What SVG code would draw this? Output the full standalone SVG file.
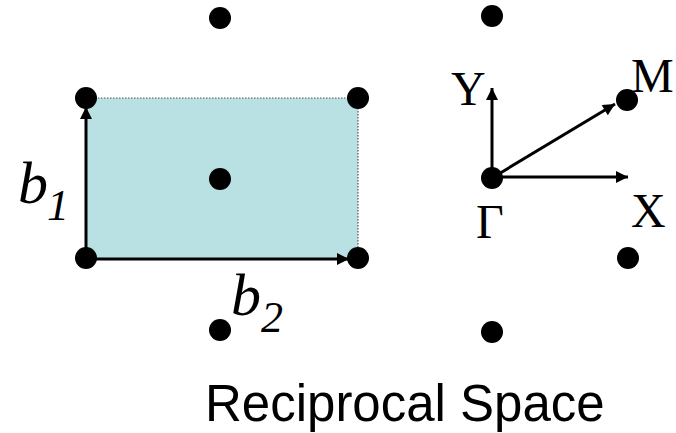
<svg xmlns="http://www.w3.org/2000/svg" width="676" height="433" viewBox="0 0 676 433">
<defs>
<style>
.dot{fill:#000}
.ln{stroke:#000;stroke-width:3;fill:none}
.it{font-family:"Liberation Serif",serif;font-style:italic;fill:#000}
.rm{font-family:"Liberation Serif",serif;font-size:48px;fill:#000}
.ss{font-family:"Liberation Sans",Arial,sans-serif;font-size:51px;fill:#000}
</style>
<marker id="ah" viewBox="0 0 10 10" refX="10" refY="5" markerWidth="5" markerHeight="4" markerUnits="strokeWidth" orient="auto">
<path d="M0,0 L10,5 L0,10 z" fill="#000"/>
</marker>
</defs>
<g id="cell">
<rect x="86" y="98" width="272" height="160" fill="#b9e0e3"/>
<path d="M86,98 H358 V258" stroke="#555" stroke-width="1.2" stroke-dasharray="1.5,1.5" fill="none"/>
</g>
<g id="connectors">
<line class="ln" x1="86" y1="258" x2="86" y2="107" marker-end="url(#ah)"/>
<line class="ln" x1="86" y1="259" x2="349" y2="259" marker-end="url(#ah)"/>
<line class="ln" x1="492" y1="178" x2="492" y2="88" marker-end="url(#ah)"/>
<line class="ln" x1="492" y1="177" x2="628" y2="177" marker-end="url(#ah)"/>
<line class="ln" x1="492" y1="178" x2="615" y2="104" marker-end="url(#ah)"/>
</g>
<g id="dots">
<circle class="dot" cx="220" cy="18" r="11"/>
<circle class="dot" cx="492" cy="16" r="11"/>
<circle class="dot" cx="86" cy="98" r="11"/>
<circle class="dot" cx="358" cy="98" r="11"/>
<circle class="dot" cx="220" cy="179" r="11"/>
<circle class="dot" cx="86" cy="258" r="11"/>
<circle class="dot" cx="358" cy="258" r="11"/>
<circle class="dot" cx="220" cy="330" r="11"/>
<circle class="dot" cx="492" cy="332" r="11"/>
<circle class="dot" cx="492" cy="178" r="11"/>
<circle class="dot" cx="627" cy="100" r="11"/>
<circle class="dot" cx="628" cy="258" r="11"/>
</g>
<g id="labels">
<text class="it" x="18" y="203" font-size="60">b</text>
<text class="it" x="47" y="220" font-size="44">1</text>
<text class="it" x="231" y="315" font-size="60">b</text>
<text class="it" x="261" y="332" font-size="44">2</text>
<text class="rm" x="451" y="105">Y</text>
<text class="rm" x="631" y="92">M</text>
<text class="rm" x="631" y="227">X</text>
<text class="rm" x="476" y="238">Γ</text>
<text class="ss" x="205" y="421">Reciprocal Space</text>
</g>
</svg>
